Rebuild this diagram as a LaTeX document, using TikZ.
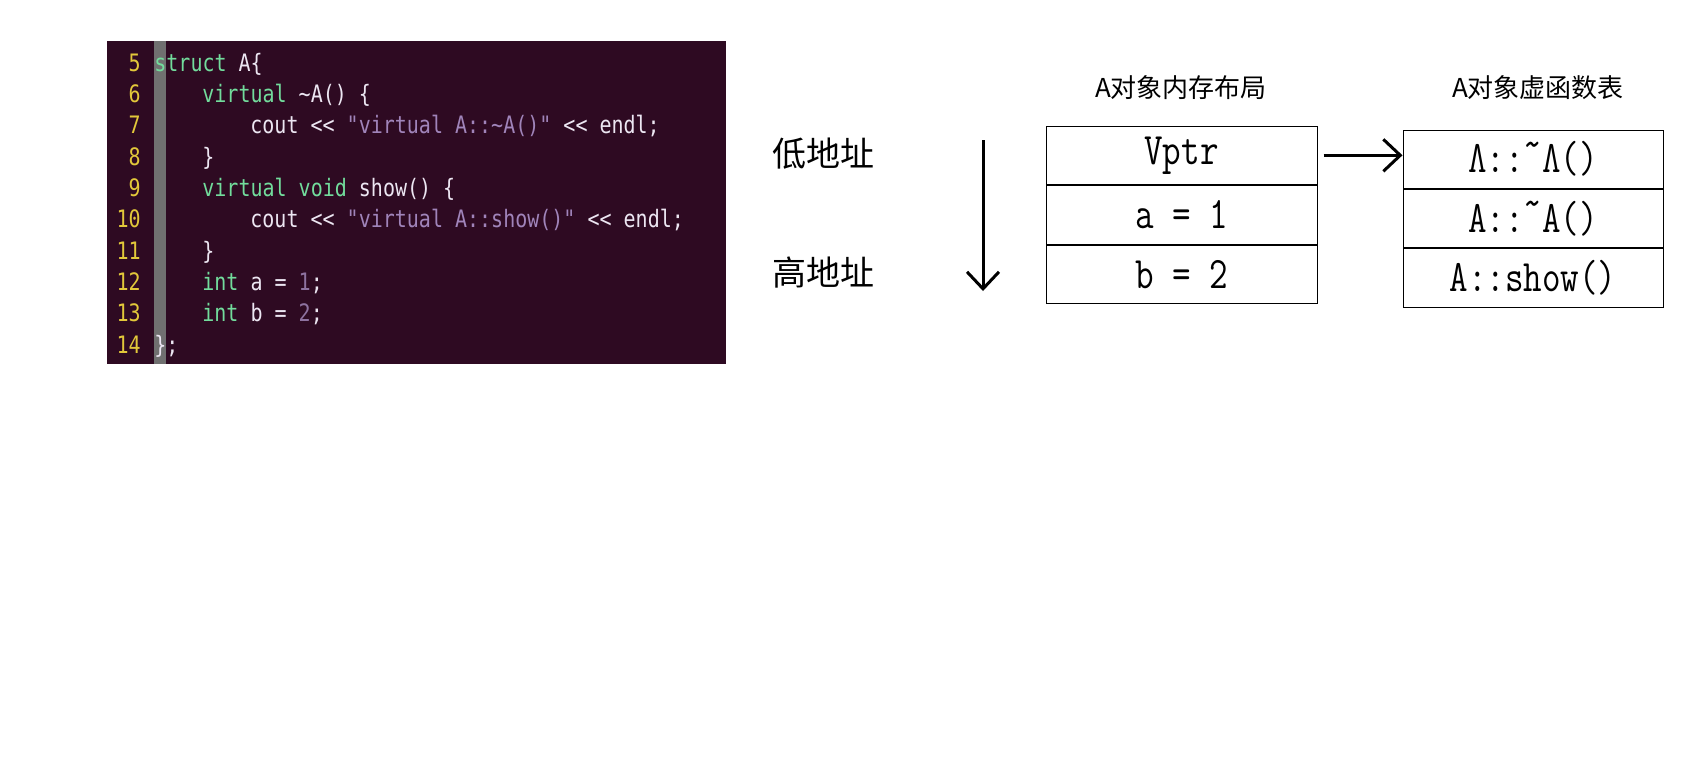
\documentclass[tikz,border=0pt]{standalone}
\usepackage{fontspec}
\usepackage{graphicx}
\usetikzlibrary{positioning,arrows.meta}

\newfontfamily\cjk{Noto Sans CJK SC}
\newfontfamily\codefont{DejaVu Sans Mono}

\definecolor{termbg}{HTML}{2E0A22}
\definecolor{gutter}{HTML}{707070}
\definecolor{lnum}{HTML}{E2C83A}
\definecolor{kwgreen}{HTML}{72DC9C}
\definecolor{strpurple}{HTML}{A084BA}
\definecolor{numpurple}{HTML}{8E72A0}
\definecolor{codefg}{HTML}{ECE6F2}

\newcommand{\ckw}[1]{\textcolor{kwgreen}{#1}}
\newcommand{\cstr}[1]{\textcolor{strpurple}{#1}}
\newcommand{\cnum}[1]{\textcolor{numpurple}{#1}}
\newcommand{\cl}[1]{\scalebox{1}[1.2]{#1}}
\newcommand{\tall}[1]{\scalebox{1}[1.25]{#1}}
\newcommand{\hitilde}{\raisebox{0.32em}{\textasciitilde}}

\begin{document}
\begin{tikzpicture}[x=0.5pt,y=-0.5pt]
    \tikzstyle{lineno}=[anchor=mid east,inner sep=0pt,text=lnum,font=\codefont\fontsize{10}{12}\selectfont]
    \tikzstyle{code}=[anchor=mid west,inner sep=0pt,text=codefg,font=\codefont\fontsize{10}{12}\selectfont]
    \tikzstyle{cell}=[draw,line width=0.5pt,minimum width=135.5pt,minimum height=29.3pt,inner sep=0pt,font=\ttfamily\fontsize{18}{20}\selectfont]
    \tikzstyle{vcell}=[cell,minimum width=130pt,minimum height=29.2pt]
    \tikzstyle{title}=[font=\cjk\fontsize{13}{15}\selectfont]
    \tikzstyle{addr}=[font=\cjk\fontsize{17}{20}\selectfont]
    \tikzstyle{ptr}=[line width=1.5pt,-{Straight Barb[length=8.5pt,width=16pt]}]

    \useasboundingbox (0,0) rectangle (1692,768);

    % terminal screenshot
    \fill[termbg] (107,41) rectangle (726,364);
    \fill[gutter] (154,41) rectangle (166,364);

    \foreach \n in {5,...,14}
        \node[lineno] (ln\n) at (141, {67+(\n-5)*31.3}) {\cl{\n}};

    \node[code] (l5) at (154, 67) {\cl{\ckw{struct} A\{}};
    \node[code] (l6) at (202, 98.3) {\cl{\ckw{virtual} \textasciitilde A() \{}};
    \node[code] (l7) at (250, 129.6) {\cl{cout << \cstr{"virtual A::\textasciitilde A()"} << endl;}};
    \node[code] (l8) at (202, 160.9) {\cl{\}}};
    \node[code] (l9) at (202, 192.2) {\cl{\ckw{virtual} \ckw{void} show() \{}};
    \node[code] (l10) at (250, 223.5) {\cl{cout << \cstr{"virtual A::show()"} << endl;}};
    \node[code] (l11) at (202, 254.8) {\cl{\}}};
    \node[code] (l12) at (202, 286.1) {\cl{\ckw{int} a = \cnum{1};}};
    \node[code] (l13) at (202, 317.4) {\cl{\ckw{int} b = \cnum{2};}};
    \node[code] (l14) at (154, 348.7) {\cl{\};}};

    % addresses
    \node[addr] (low) at (823, 154) {低地址};
    \node[addr] (high) at (823, 272) {高地址};
    \coordinate (lowend) at (983, 140);
    \coordinate (highend) at (983, 291);
    \draw[ptr] (lowend) -- (highend);

    % object layout
    \node[title] (objtitle) at (1181, 88) {A对象内存布局};
    \node[cell] (vptr) at (1181.5, 155.3) {\tall{Vptr}};
    \node[cell, below=0pt of vptr] (va) {\tall{a = 1}};
    \node[cell, below=0pt of va] (vb) {\tall{b = 2}};

    % vtable
    \node[title] (vttitle) at (1538, 88) {A对象虚函数表};
    \node[vcell] (vt1) at (1533, 159.2) {\tall{Λ::\hitilde Λ()}};
    \node[vcell, below=0pt of vt1] (vt2) {\tall{A::\hitilde A()}};
    \node[vcell, below=0pt of vt2] (vt3) {\tall{A::show()}};

    \draw[ptr, shorten <=3pt] (vptr.east) -- (vptr.east -| vt1.west);
\end{tikzpicture}
\end{document}
